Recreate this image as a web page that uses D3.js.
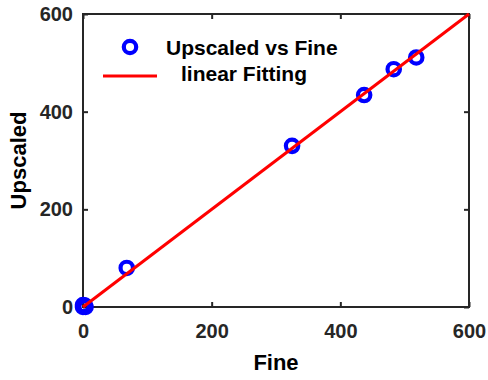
<!DOCTYPE html>
<html><head><meta charset="utf-8">
<script src="https://cdn.jsdelivr.net/npm/d3@7"></script>
<style>body{margin:0;background:#fff}svg{display:block}</style>
</head><body>
<svg id="c" width="488" height="380"></svg>
<script>
const fine = [0, 3, 0, 4, 68, 325, 437, 483, 518];
const upscaled = [0, 3, 4, 0, 80, 330, 434, 487, 511];
const fitX = [0, 600];
const fitY = [0, 600];
const xTicks = [0, 200, 400, 600];
const yTicks = [0, 200, 400, 600];
const legendLabels = ["Upscaled vs Fine", "linear Fitting"];

const svg = d3.select("#c");
const L = 83, R = 469, T = 14, B = 307;
const x = d3.scaleLinear().domain([0, 600]).range([L, R]);
const y = d3.scaleLinear().domain([0, 600]).range([B, T]);
const axc = "#262626";
const font = "'Liberation Sans', Arial, Helvetica, sans-serif";

function styleAxis(g, labels) {
  g.select(".domain").remove();
  g.selectAll("line").attr("stroke", axc).attr("stroke-width", 2);
  g.selectAll("text").attr("fill", axc).style("font-family", font)
    .style("font-weight", "bold").style("font-size", labels ? "20px" : "0px");
}
svg.append("g").attr("transform", `translate(0,${B})`)
  .call(d3.axisBottom(x).tickValues(xTicks).tickSizeInner(-5).tickSizeOuter(0).tickPadding(17))
  .call(g => styleAxis(g, true));
svg.append("g").attr("transform", `translate(0,${T})`)
  .call(d3.axisTop(x).tickValues(xTicks).tickSizeInner(-5).tickSizeOuter(0).tickFormat(""))
  .call(g => styleAxis(g, false));
svg.append("g").attr("transform", `translate(${L},0)`)
  .call(d3.axisLeft(y).tickValues(yTicks).tickSizeInner(-5).tickSizeOuter(0).tickPadding(10))
  .call(g => styleAxis(g, true));
svg.append("g").attr("transform", `translate(${R},0)`)
  .call(d3.axisRight(y).tickValues(yTicks).tickSizeInner(-5).tickSizeOuter(0).tickFormat(""))
  .call(g => styleAxis(g, false));

svg.append("rect").attr("x", L).attr("y", T).attr("width", R - L).attr("height", B - T)
  .attr("fill", "none").attr("stroke", axc).attr("stroke-width", 2);

// points
svg.append("g").selectAll("circle").data(fine.map((f, i) => [f, upscaled[i]])).join("circle")
  .attr("cx", d => x(d[0])).attr("cy", d => y(d[1])).attr("r", 6.2)
  .attr("fill", "none").attr("stroke", "#0000ff").attr("stroke-width", 4.2);

// fit line
svg.append("path").datum(fitX.map((v, i) => [v, fitY[i]]))
  .attr("d", d3.line().x(d => x(d[0])).y(d => y(d[1])))
  .attr("stroke", "#ff0000").attr("stroke-width", 3).attr("fill", "none");

// legend
svg.append("circle").attr("cx", 130).attr("cy", 47).attr("r", 6.2)
  .attr("fill", "none").attr("stroke", "#0000ff").attr("stroke-width", 4.2);
svg.append("line").attr("x1", 103).attr("x2", 157).attr("y1", 76).attr("y2", 76)
  .attr("stroke", "#ff0000").attr("stroke-width", 3);
svg.append("text").attr("x", 166).attr("y", 55).text(legendLabels[0])
  .style("font-family", font).style("font-weight", "bold").style("font-size", "21px").attr("fill", "#000");
svg.append("text").attr("x", 181).attr("y", 81).text(legendLabels[1])
  .style("font-family", font).style("font-weight", "bold").style("font-size", "21px").attr("fill", "#000");

// axis titles
svg.append("text").attr("x", (L + R) / 2).attr("y", 370).attr("text-anchor", "middle")
  .text("Fine").style("font-family", font).style("font-weight", "bold").style("font-size", "22px");
svg.append("text").attr("transform", `translate(26,${(T + B) / 2}) rotate(-90)`).attr("text-anchor", "middle")
  .text("Upscaled").style("font-family", font).style("font-weight", "bold").style("font-size", "22px");
</script>
</body></html>
